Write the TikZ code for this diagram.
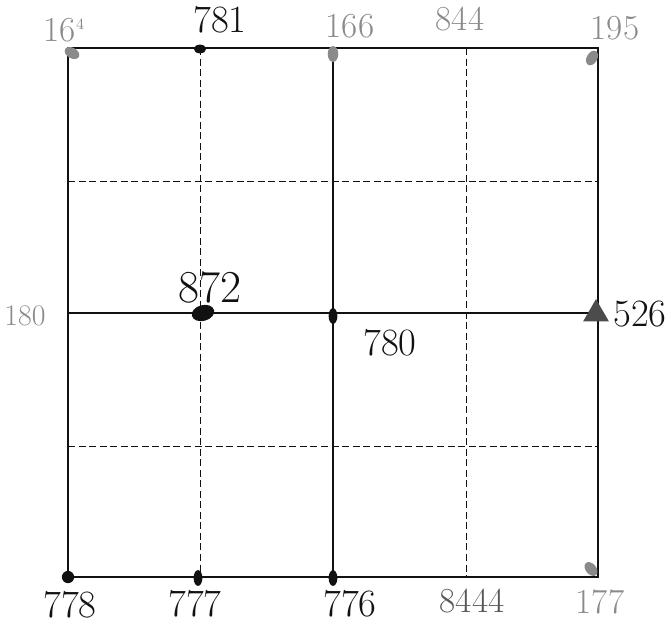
\documentclass[tikz,border=0pt]{standalone}
\usepackage{tikz}
\usetikzlibrary{shapes.geometric, positioning, calc}
\definecolor{pencil}{HTML}{8a8a8a}
\definecolor{ink}{HTML}{111111}

\begin{document}
\begin{tikzpicture}[x=0.02cm, y=-0.02cm,
    border/.style={draw=ink, line width=1.4pt},
    solidline/.style={draw=ink, line width=0.6pt},
    dashline/.style={draw=ink, line width=0.5pt, dash pattern=on 4pt off 2pt},
    inklabel/.style={text=ink, font=\fontsize{22}{24}\selectfont, inner sep=0pt},
    pencillabel/.style={text=pencil, font=\fontsize{20}{22}\selectfont, inner sep=0pt},
    inkdot/.style={ellipse, fill=ink, inner sep=0pt},
    pencilmark/.style={ellipse, fill=pencil, inner sep=0pt, minimum width=9pt, minimum height=6pt},
]
    \useasboundingbox (0,0) rectangle (671,625);
    % Grid corners
    \coordinate (nw) at (68,48);
    \coordinate (se) at (598,577);
    % Inner grid lines
    \foreach \i in {200,466} {
        \draw[dashline] (\i,48) -- (\i,577);
    }
    \foreach \j in {181,446} {
        \draw[dashline] (68,\j) -- (598,\j);
    }
    \draw[solidline] (333,48) -- (333,577);
    \draw[solidline] (68,313) -- (598,313);
    \draw[border] (nw) rectangle (se);
    % Pencil marks
    \node[pencilmark, rotate=-30] (m164) at (72,53) {};
    \node[pencilmark, rotate=90] (m166) at (333,54) {};
    \node[pencilmark, rotate=60] (m195) at (592,58) {};
    \node[pencilmark, rotate=-50] (m177) at (591,569) {};
    % Ink dots
    \node[inkdot, minimum width=7pt, minimum height=5pt] (d781) at (200,49) {};
    \node[inkdot, minimum width=13pt, minimum height=9pt, rotate=15] (d872) at (203,313) {};
    \node[inkdot, minimum width=5pt, minimum height=9pt] (d780) at (333,316) {};
    \node[inkdot, minimum width=7pt, minimum height=7pt] (d778) at (68,577) {};
    \node[inkdot, minimum width=5pt, minimum height=9pt] (d777) at (198,578) {};
    \node[inkdot, minimum width=5pt, minimum height=9pt] (d776) at (333,578) {};
    \node[regular polygon, regular polygon sides=3, fill=ink!75, inner sep=0pt, minimum size=17pt] (t526) at (596,314) {};
    % Labels
    \node[pencillabel] (l164) at (64,30) {16\raisebox{7pt}{\small 4}};
    \node[inklabel] (l781) at (220,20) {781};
    \node[pencillabel] (l166) at (350,26) {166};
    \node[pencillabel] (l844) at (460,19) {844};
    \node[pencillabel] (l195) at (615,28) {195};
    \node[pencillabel, font=\fontsize{17}{19}\selectfont] (l180) at (25,316) {180};
    \node[inklabel, font=\fontsize{26}{28}\selectfont] (l872) at (210,287) {872};
    \node[inklabel] (l780) at (390,343) {780};
    \node[inklabel] (l526) at (640,314) {526};
    \node[inklabel] (l778) at (70,605) {778};
    \node[inklabel] (l777) at (195,604) {777};
    \node[inklabel] (l776) at (350,604) {776};
    \node[pencillabel, text=ink!70] (l844b) at (472,601) {8444};
    \node[pencillabel] (l177) at (600,602) {177};
\end{tikzpicture}
\end{document}
